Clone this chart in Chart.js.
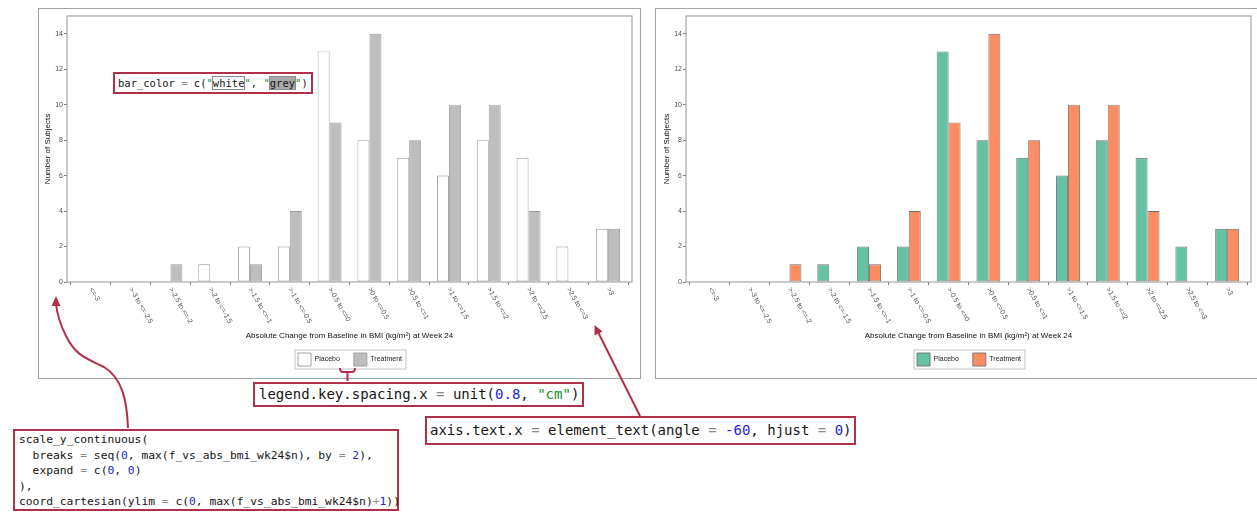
<!DOCTYPE html>
<html>
<head>
<meta charset="utf-8">
<script src="https://cdn.jsdelivr.net/npm/chart.js@4.4.1/dist/chart.umd.min.js"></script>
<style>
  html, body { margin: 0; padding: 0; background: #fff; }
  body { position: relative; width: 1257px; height: 512px; overflow: hidden; font-family: "Liberation Sans", Arial, sans-serif; }
  .frame { position: absolute; border: 1.5px solid #a3a3a3; box-sizing: border-box; }
  canvas { position: absolute; }
  .code { position: absolute; box-sizing: border-box; border: 2px solid #b0304a; background: #fff;
          font-family: "DejaVu Sans Mono", monospace; color: #151515; white-space: pre; }
  .num { color: #1f24d6; }
  .str { color: #1a8a2a; }
  .op { color: #8a8a8a; }
  .wbox { outline: 1px solid #8c8c8c; }
  .gbox { background: #a8a8a8; outline: 1px solid #8c8c8c; }
  svg { position: absolute; left: 0; top: 0; }
</style>
</head>
<body>
<div class="frame" style="left:38px; top:8px; width:603px; height:371px;"></div>
<div class="frame" style="left:655px; top:8px; width:610px; height:371px;"></div>

<canvas id="greyChart" width="622" height="368" style="left:39px; top:9px;"></canvas>
<canvas id="colourChart" width="622" height="368" style="left:658px; top:9px;"></canvas>

<div class="code" style="left:113px; top:72px; width:200px; height:22px; font-size:10.5px; line-height:18px; padding-left:3px;">bar_color <span class="op">=</span> c(<span class="str">"</span><span class="wbox">white</span><span class="str">"</span>, <span class="str">"</span><span class="gbox">grey</span><span class="str">"</span>)</div>

<div class="code" style="left:253px; top:382px; width:331px; height:25px; font-size:14px; line-height:21px; padding-left:4px;">legend.key.spacing.x <span class="op">=</span> unit(<span class="num">0.8</span>, <span class="str">"cm"</span>)</div>

<div class="code" style="left:425px; top:416px; width:431px; height:29px; font-size:14px; line-height:25px; padding-left:3px;">axis.text.x <span class="op">=</span> element_text(angle <span class="op">=</span> <span class="num">-60</span>, hjust <span class="op">=</span> <span class="num">0</span>)</div>

<div class="code" style="left:13px; top:429px; width:386px; height:82px; font-size:11.3px; line-height:15.5px; padding:1px 0 0 4px;">scale_y_continuous(
  breaks <span class="op">=</span> seq(<span class="num">0</span>, max(f_vs_abs_bmi_wk24$n), by <span class="op">=</span> <span class="num">2</span>),
  expand <span class="op">=</span> c(<span class="num">0</span>, <span class="num">0</span>)
),
coord_cartesian(ylim <span class="op">=</span> c(<span class="num">0</span>, max(f_vs_abs_bmi_wk24$n)<span class="op">+</span><span class="num">1</span>))</div>

<svg width="1257" height="512">
  <g fill="none" stroke="#b0304a" stroke-width="2">
    <path d="M128,428 C127,400 122,378 104,367 C86,358 76,356 66,336 C59,322 57,313 56,304"/>
    <path d="M640,416 L598.5,333"/>
    <path d="M340,368 Q340,372 343,372 L352,372 Q355,372 355,368 M347.5,372 L347.5,381"/>
  </g>
  <g fill="#b0304a">
    <polygon points="56,296 51.5,306 60.5,306"/>
    <polygon points="594.5,325 602.5,331.5 594.5,335.5"/>
  </g>
</svg>

<script>
const categories = ['<=-3', '>-3 to <=-2.5', '>-2.5 to <=-2', '>-2 to <=-1.5', '>-1.5 to <=-1',
  '>-1 to <=-0.5', '>-0.5 to <=0', '>0 to <=0.5', '>0.5 to <=1', '>1 to <=1.5',
  '>1.5 to <=2', '>2 to <=2.5', '>2.5 to <=3', '>3'];
const placebo = [0, 0, 0, 1, 2, 2, 13, 8, 7, 6, 8, 7, 2, 3];
const treatment = [0, 0, 1, 0, 1, 4, 9, 14, 8, 10, 10, 4, 0, 3];
const seriesNames = ['Placebo', 'Treatment'];
const yTicks = [0, 2, 4, 6, 8, 10, 12, 14];
const yMax = 15;
const xTitle = 'Absolute Change from Baseline in BMI (kg/m\u00B2) at Week 24';
const yTitle = 'Number of Subjects';

Chart.defaults.font.family = '"Liberation Sans", Arial, sans-serif';

// rotated x labels, reading downwards like angle = -60 in ggplot
const slantedLabels = {
  id: 'slantedLabels',
  afterDraw(chart) {
    const { ctx, scales: { x } } = chart;
    ctx.save();
    ctx.font = '7px "Liberation Sans", Arial, sans-serif';
    ctx.fillStyle = '#4d4d4d';
    ctx.textAlign = 'left';
    ctx.textBaseline = 'middle';
    categories.forEach((label, i) => {
      ctx.save();
      ctx.translate(x.getPixelForValue(i), x.top + 6);
      ctx.rotate(Math.PI / 3);
      ctx.fillText(label, 0, 0);
      ctx.restore();
    });
    ctx.restore();
  }
};

const panelBorder = {
  id: 'panelBorder',
  afterDatasetsDraw(chart) {
    const { ctx, chartArea: a } = chart;
    ctx.save();
    ctx.strokeStyle = '#a6a6a6';
    ctx.lineWidth = 1.2;
    ctx.strokeRect(a.left, a.top, a.right - a.left, a.bottom - a.top);
    ctx.restore();
  }
};

const legendFrame = {
  id: 'legendFrame',
  afterDraw(chart) {
    const boxes = chart.legend.legendHitBoxes;
    if (!boxes || !boxes.length) return;
    const left = Math.min(...boxes.map(b => b.left)) - 3;
    const right = Math.max(...boxes.map(b => b.left + b.width)) + 4;
    const top = boxes[0].top - 3;
    const ctx = chart.ctx;
    ctx.save();
    ctx.strokeStyle = '#c4c4c4';
    ctx.lineWidth = 1;
    ctx.strokeRect(left, top, right - left, boxes[0].height + 6);
    ctx.restore();
  }
};

function drawHistogram(id, fills, edge) {
  const ctx = document.getElementById(id);
  const series = [placebo, treatment];
  new Chart(ctx, {
    type: 'bar',
    data: {
      datasets: series.map((vals, k) => ({
        label: seriesNames[k],
        data: vals.map((v, i) => ({ x: i, y: v })),
        backgroundColor: fills[k],
        borderColor: edge,
        borderWidth: 0.9,
        borderSkipped: false,
        categoryPercentage: 0.6,
        barPercentage: 1
      }))
    },
    options: {
      responsive: false,
      animation: false,
      layout: { padding: { left: 0, right: 0, top: 7, bottom: 1 } },
      plugins: {
        tooltip: { enabled: false },
        legend: {
          position: 'bottom',
          labels: { boxWidth: 13, boxHeight: 13, padding: 14, color: '#222', font: { size: 7 } }
        }
      },
      scales: {
        x: {
          type: 'linear',
          min: -0.6,
          max: categories.length - 0.4,
          offset: false,
          afterBuildTicks: s => { s.ticks = categories.map((_, i) => ({ value: i })); },
          afterFit: s => { s.height = 57; },
          grid: { drawOnChartArea: false, drawTicks: true, tickLength: 3, color: '#7a7a7a' },
          border: { display: false },
          ticks: { display: false },
          title: { display: true, text: xTitle, color: '#111', font: { size: 8 }, padding: { top: 0, bottom: -2 } }
        },
        y: {
          min: 0,
          max: yMax,
          afterBuildTicks: s => { s.ticks = yTicks.map(v => ({ value: v })); },
          afterFit: s => { s.width = 28; },
          grid: { drawOnChartArea: false, drawTicks: true, tickLength: 3, color: '#7a7a7a' },
          border: { display: false },
          ticks: { color: '#4d4d4d', font: { size: 7 }, padding: 1 },
          title: { display: true, text: yTitle, color: '#111', font: { size: 8 }, padding: { top: 4, bottom: 0 } }
        },
        // empty right-hand gutter so the legend stays centred under the panel
        gutter: {
          position: 'right',
          afterFit: s => { s.width = 29; },
          grid: { display: false },
          border: { display: false },
          ticks: { display: false }
        }
      }
    },
    plugins: [panelBorder, slantedLabels, legendFrame]
  });
}

drawHistogram('greyChart', ['#ffffff', '#bebebe'], '#999999');
drawHistogram('colourChart', ['#66c2a5', '#fc8d62'], '#6f6f6f');
</script>
</body>
</html>
